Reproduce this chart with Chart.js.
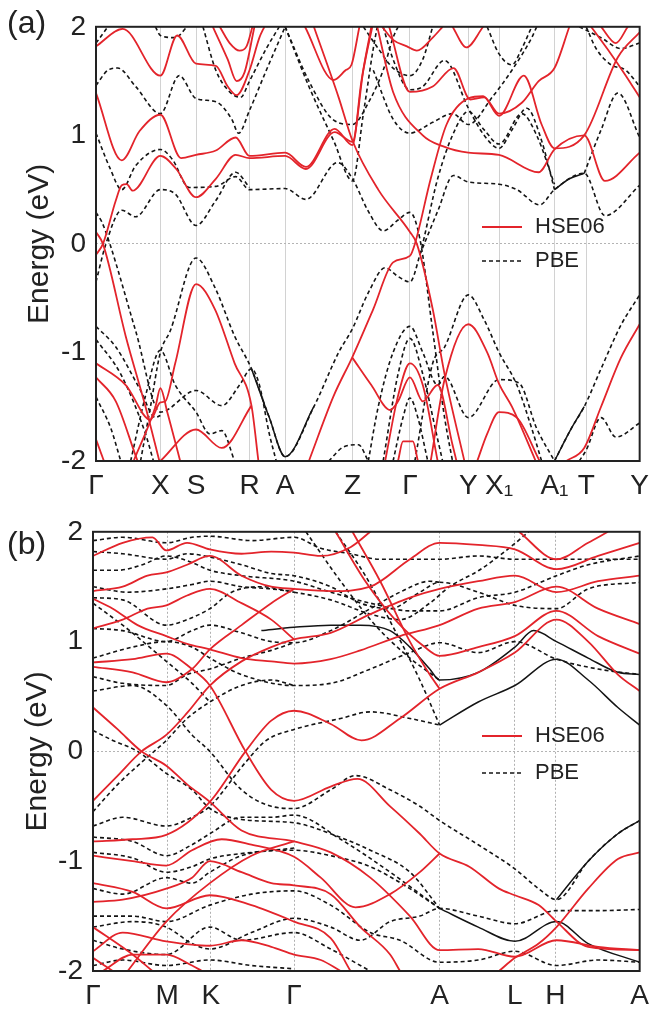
<!DOCTYPE html>
<html>
<head>
<meta charset="utf-8">
<title>Band structure HSE06 / PBE</title>
<script src="https://cdn.jsdelivr.net/npm/chart.js@4"></script>
<style>
  body { margin: 0; background: #fff; }
  #wrap { position: relative; width: 657px; height: 1010px; }
  canvas { position: absolute; left: 0; }
  .tag { position: absolute; left: 7px; font: 32px 'Liberation Sans', Arial, sans-serif; color: #222; }
</style>
</head>
<body>
<div id="wrap">
  <canvas id="chartA" width="657" height="505" style="top:0"></canvas>
  <canvas id="chartB" width="657" height="505" style="top:505px"></canvas>
  <div class="tag" style="top:4px">(a)</div>
  <div class="tag" style="top:525px">(b)</div>
</div>
<script>
// ---- panel (a): k-path positions and labels
const kPosA = [0, 65, 101, 155, 191, 259, 317, 376, 407, 463, 495, 549];
const kLabA = ['Γ', 'X', 'S', 'R', 'A', 'Z', 'Γ', 'Y', 'X₁', 'A₁', 'T', 'Y'];

// HSE06 bands, [k, E(eV)]
const hseA = [
  [[0,1.39],[26,0.77],[44,1.04],[65,1.19],[86,0.79],[101,0.82],[121,0.86],[141,0.98],[155,0.81],[191,0.84],[212,0.71],[241,1.06],[259,0.91],[268,1.5],[278,2.0]],
  [[0,-0.1],[7,0],[20,0.4],[26,0.54],[31,0.55],[37,0.49],[65,0.81],[81,0.69],[101,0.43],[121,0.6],[141,0.82],[155,0.79],[191,0.81],[212,0.69],[241,1.03],[259,0.94],[270,1.6],[279,2.0]],
  [[0,0.11],[7,0],[30,-0.85],[50,-1.5],[64,-2.0]],
  [[0,1.82],[27,1.98],[65,1.55],[82,1.92],[101,1.66],[121,1.64],[133,1.45],[142,1.37],[155,1.6],[165,1.9],[170,2.0]],
  [[118,2.0],[133,1.7],[142,1.5],[150,1.58],[160,2.0]],
  [[125,2.0],[135,1.85],[145,1.78],[152,1.82],[158,2.0]],
  [[211,2.0],[240,1.51],[252,1.6],[258,1.65],[266,2.0]],
  [[220,2.0],[245,1.35],[259,0.95],[285,0.5],[317,0.11],[324,0],[340,-0.6],[352,-1.2],[372,-2.0]],
  [[289,2.0],[300,1.88],[314,1.82],[324,1.78],[340,1.9],[350,2.0]],
  [[360,2.0],[374,1.81],[391,2.0]],
  [[296,2.0],[317,1.4],[340,1.45],[361,1.62],[378,1.33],[392,1.35],[407,1.2],[430,1.3],[447,1.5],[463,1.62],[478,2.0]],
  [[215,-2.0],[240,-1.4],[259,-1.04],[280,-0.6],[300,-0.17],[317,-0.11],[322,0],[338,0.6],[354,1.1],[376,1.34],[391,1.36],[407,1.18],[432,1.55],[450,1.1],[463,0.88],[493,1.0],[527,1.72],[549,1.95]],
  [[284,2.0],[300,1.4],[330,1.0],[350,0.9],[376,0.84],[407,0.82],[447,0.66],[463,0.87],[493,1.0],[514,0.58],[549,0.84]],
  [[500,2.0],[520,1.75],[535,1.55],[549,1.35]],
  [[510,2.0],[525,1.85],[537,2.0]],
  [[0,-1.1],[30,-1.3],[55,-1.62],[65,-1.46],[70,-1.45],[80,-1.1],[101,-0.37],[120,-0.6],[140,-1.1],[157,-1.49],[164,-2.0]],
  [[0,-1.23],[20,-1.45],[40,-1.95],[42,-2.0]],
  [[65,-2.0],[101,-1.71],[127,-1.88],[157,-1.49]],
  [[38,-2.0],[60,-1.5],[65,-1.33],[72,-1.55],[85,-2.0]],
  [[0,-1.8],[8,-2.0]],
  [[259,-1.05],[278,-1.3],[297,-1.53],[305,-1.45],[317,-1.23],[330,-1.45],[345,-1.3],[360,-1.85],[364,-2.0]],
  [[292,-2.0],[305,-1.4],[317,-1.1],[330,-1.3],[345,-2.0]],
  [[305,-2.0],[310,-1.82],[320,-1.82],[325,-2.0]],
  [[338,-2.0],[352,-1.25],[376,-0.74],[395,-1.0],[407,-1.29],[420,-1.5],[444,-2.0]],
  [[385,-2.0],[395,-1.75],[407,-1.55],[425,-1.6],[448,-2.0]],
  [[475,-2.0],[493,-1.88],[510,-1.5],[530,-1.05],[549,-0.74]]
];

// PBE bands, [k, E(eV)]
const pbeA = [
  [[0,1.46],[12,1.6],[22,1.62],[40,1.45],[65,1.2],[84,1.55],[101,1.34],[121,1.31],[137,1.15],[144,1.02],[155,1.23],[172,1.6],[191,2.0]],
  [[0,1.85],[8,1.95],[12,2.0]],
  [[60,2.0],[65,1.92],[80,1.9],[92,2.0]],
  [[108,2.0],[121,1.6],[135,1.4],[146,1.35],[155,1.5],[172,1.8],[185,2.0]],
  [[0,1.02],[14,0.7],[26,0.5],[40,0.72],[65,0.87],[77,0.78],[94,0.52],[121,0.53],[141,0.62],[155,0.5],[191,0.51],[212,0.41],[244,0.75],[259,0.6],[275,0.3],[290,0.12],[305,0.22],[317,0.29],[327,0.05],[340,-0.8],[352,-1.6],[360,-2.0]],
  [[0,-0.35],[10,0],[26,0.31],[40,0.25],[65,0.5],[80,0.46],[101,0.17],[121,0.4],[141,0.66],[155,0.52]],
  [[191,2.0],[215,1.5],[240,1.14],[259,1.1],[275,1.3],[290,1.6],[300,1.9],[305,2.0]],
  [[191,2.0],[215,1.45],[240,0.95],[259,0.58],[270,1.2],[280,1.8],[284,2.0]],
  [[0,0.29],[6,0.2],[14,0],[40,-0.8],[65,-1.55],[101,-1.35],[127,-1.49],[145,-1.3],[157,-1.15],[165,-1.3],[175,-1.75],[182,-2.0]],
  [[45,-2.0],[55,-1.5],[65,-1.0],[75,-0.8],[101,-0.13],[120,-0.4],[140,-0.85],[157,-1.15],[175,-1.6],[191,-1.96],[220,-1.5],[245,-1.0],[259,-0.78],[275,-0.45],[292,-0.22],[305,-0.3],[317,-0.35],[327,-0.1],[345,0.6],[360,1.0],[376,1.22],[392,1.05],[407,0.92],[430,1.2],[445,1.0],[463,0.55]],
  [[327,-0.1],[345,0.3],[361,0.63],[376,0.57],[407,0.55],[425,0.5],[448,0.36],[463,0.5],[493,0.65],[514,0.26],[549,0.54]],
  [[493,0.65],[510,1.05],[527,1.39],[549,0.98]],
  [[290,2.0],[300,1.7],[317,1.42],[330,1.45],[352,1.69],[376,1.25],[392,1.0],[407,0.88],[420,1.05],[435,1.25],[450,0.95],[463,0.5]],
  [[280,1.6],[300,1.15],[317,1.02],[340,1.12],[360,1.2],[376,1.1],[400,1.35],[420,1.6],[440,1.9],[445,2.0]],
  [[495,2.0],[505,1.8],[520,1.65],[535,1.6],[549,1.45]],
  [[488,2.0],[510,1.9],[530,1.8],[549,1.85]],
  [[270,2.0],[285,1.8],[300,1.62],[317,1.55],[330,1.7],[340,2.0]],
  [[395,2.0],[407,1.75],[420,1.65],[430,1.8],[440,2.0]],
  [[322,-2.0],[340,-1.1],[352,-0.95],[376,-0.47],[392,-0.7],[407,-1.0],[425,-1.3],[440,-1.7],[450,-2.0]],
  [[275,-2.0],[285,-1.5],[300,-1.0],[317,-0.76],[330,-1.0],[345,-1.3],[352,-1.22],[376,-1.6],[407,-1.25],[427,-1.28],[445,-1.7],[463,-2.0]],
  [[235,-2.0],[250,-1.87],[265,-1.85],[275,-2.0]],
  [[290,-2.0],[305,-1.2],[317,-0.87],[330,-1.2],[345,-1.8],[350,-2.0]],
  [[300,-2.0],[310,-1.6],[317,-1.42],[325,-1.6],[335,-2.0]],
  [[463,-2.0],[480,-1.7],[493,-1.5],[510,-1.15],[530,-0.75],[549,-0.47]],
  [[488,-2.0],[495,-1.9],[510,-1.6],[525,-1.78],[549,-1.65]],
  [[0,-0.76],[20,-0.95],[45,-1.35],[60,-1.6],[65,-1.58]],
  [[0,-0.88],[25,-1.2],[50,-1.75],[58,-2.0]],
  [[0,-1.41],[15,-1.7],[25,-2.0]],
  [[35,-2.0],[50,-1.4],[65,-0.98],[80,-1.3],[101,-1.55],[115,-1.75],[127,-1.72],[140,-2.0]]
];

// PBE pieces that print as solid in the figure
const pbeSolidA = [
  [[463,0.5],[478,0.6],[493,0.65]],
  [[157,-1.15],[175,-1.6],[191,-1.96],[220,-1.5]],
  [[463,-2.0],[480,-1.7],[493,-1.5]]
];

// ---- panel (b)
const kPosB = [0, 75, 119, 203, 350, 426, 467, 552];
const kLabB = ['Γ', 'M', 'K', 'Γ', 'A', 'L', 'H', 'A'];

const hseB = [
  [[0,0.40],[25,0.2],[49,0],[74,-0.13],[95,-0.3],[118,-0.46],[150,-0.72],[203,-0.82],[240,-0.92],[280,-1.15],[320,-1.5],[350,-1.81],[389,-1.8],[426,-1.87],[468,-1.72],[510,-1.78],[552,-1.81]],
  [[0,-0.45],[25,-0.22],[49,0],[74,0.15],[95,0.35],[118,0.6],[150,0.82],[180,0.95],[203,1.02],[240,1.08],[280,1.25],[320,1.4],[350,1.48],[389,1.55],[426,1.6],[468,1.45],[510,1.55],[552,1.6]],
  [[0,0.81],[40,0.84],[74,0.89],[100,0.75],[118,0.6],[154,0],[180,-0.35],[203,-0.45],[240,-0.32],[267,-0.25],[300,-0.5],[330,-0.75],[350,-0.93],[380,-1.05],[410,-1.25],[426,-1.31],[450,-1.4],[468,-1.55],[500,-1.78],[552,-1.81]],
  [[410,-2.0],[426,-1.88],[450,-1.75],[468,-1.6],[500,-1.25],[530,-0.98],[552,-0.92]],
  [[0,-0.82],[40,-0.8],[74,-0.76],[118,-0.46],[154,0],[180,0.28],[203,0.37],[240,0.25],[271,0.1],[310,0.3],[350,0.57],[389,0.72],[426,0.9],[468,1.2],[500,1.0],[530,0.7],[552,0.55]],
  [[0,1.39],[20,1.3],[45,1.15],[74,1.05],[95,0.98],[118,0.93],[150,0.85],[180,0.82],[203,0.8],[240,0.84],[270,0.92],[310,1.05],[350,1.15],[389,1.3],[426,1.36],[468,1.5],[510,1.3],[552,1.16]],
  [[245,2.0],[275,1.55],[305,1.2],[335,0.95],[350,0.87],[389,0.95],[426,1.05],[468,1.28],[510,1.05],[552,0.89]],
  [[262,2.0],[290,1.55],[320,1.0],[340,0.7],[350,0.57]],
  [[0,1.46],[30,1.5],[55,1.6],[74,1.63],[95,1.7],[118,1.78],[150,1.6],[180,1.5],[203,1.48],[240,1.46],[280,1.5],[320,1.75],[350,1.9],[389,1.88],[426,1.84],[468,1.66],[510,1.78],[552,1.9]],
  [[0,1.78],[30,1.9],[60,1.95],[74,1.83],[95,1.9],[118,1.84],[150,1.8],[180,1.82],[203,1.81],[230,1.78],[260,1.86],[280,2.0]],
  [[0,1.12],[30,1.2],[55,1.3],[74,1.33],[95,1.42],[118,1.48],[150,1.35],[180,1.2],[203,1.02]],
  [[0,0.77],[40,0.72],[74,0.63],[100,0.75],[118,0.93],[150,1.15],[180,1.35],[203,1.48]],
  [[0,-0.95],[40,-1.0],[74,-1.04],[100,-0.9],[130,-0.8],[160,-0.85],[203,-0.96],[230,-1.15],[265,-1.42],[300,-1.3],[330,-1.1],[350,-0.93]],
  [[0,-1.37],[30,-1.35],[74,-1.25],[100,-1.15],[118,-1.0],[150,-1.1],[180,-1.2],[203,-1.22],[240,-1.3],[270,-1.6],[300,-1.85],[310,-2.0]],
  [[0,-1.2],[40,-1.28],[74,-1.43],[118,-1.31],[160,-1.4],[203,-1.55],[240,-1.7],[260,-2.0]],
  [[0,-1.82],[30,-1.65],[74,-1.73],[118,-1.77],[150,-1.72],[180,-1.78],[203,-1.85],[230,-1.9],[250,-2.0]],
  [[0,-1.88],[20,-2.0]],
  [[10,-2.0],[40,-1.85],[74,-1.85],[100,-1.95],[110,-2.0]],
  [[0,-1.6],[40,-1.85],[60,-2.0]],
  [[35,-2.0],[74,-1.55],[118,-1.2],[160,-0.95],[203,-0.82]],
  [[430,2.0],[468,1.75],[500,1.9],[520,2.0]]
];

const pbeB = [
  [[0,1.92],[30,1.95],[74,1.9],[100,1.95],[118,1.96],[160,1.92],[203,1.95],[230,1.85],[260,1.8],[290,1.75],[320,1.75],[350,1.75],[389,1.78],[426,1.75],[468,1.75],[510,1.75],[552,1.75]],
  [[0,1.82],[30,1.8],[74,1.75],[95,1.8],[118,1.77],[150,1.7],[180,1.62],[203,1.6],[240,1.5],[270,1.35],[300,1.3],[330,1.45],[350,1.54],[389,1.45],[426,1.33],[468,1.3],[500,1.48],[552,1.54]],
  [[0,1.65],[25,1.65],[50,1.7],[74,1.78],[100,1.72],[118,1.65],[150,1.6],[203,1.55],[240,1.45],[280,1.35],[320,1.28],[350,1.28],[389,1.4],[426,1.45],[468,1.6],[500,1.7],[552,1.78]],
  [[0,1.5],[35,1.45],[74,1.48],[100,1.52],[118,1.55],[150,1.5],[180,1.48],[203,1.45],[240,1.38],[280,1.25],[310,1.2],[340,1.35],[360,1.5],[390,1.65],[420,1.85],[440,2.0]],
  [[0,1.4],[30,1.38],[74,1.15],[95,1.2],[118,1.3],[140,1.45],[170,1.5],[203,1.45]],
  [[0,1.12],[30,1.1],[74,1.0],[100,1.1],[118,1.15],[150,1.08],[180,1.0],[203,0.99],[240,1.1],[280,1.3],[310,1.45],[340,1.55],[350,1.54]],
  [[0,0.85],[40,0.95],[74,1.0],[100,0.95],[118,0.85],[150,0.7],[203,0.6],[240,0.62],[280,0.75],[320,0.9],[350,0.99],[389,0.9],[426,1.0],[468,0.84],[510,0.75],[552,0.7]],
  [[0,0.68],[30,0.62],[74,0.6],[95,0.7],[118,0.75],[150,0.85],[180,0.92],[203,0.99]],
  [[0,0.19],[20,0.1],[45,0],[74,-0.2],[100,-0.35],[118,-0.52],[150,-0.62],[203,-0.65],[240,-0.75],[280,-0.9],[320,-1.1],[350,-1.43]],
  [[0,-0.55],[25,-0.3],[49,-0.1],[74,0.1],[95,0.3],[118,0.45],[150,0.6],[180,0.65],[203,0.6]],
  [[0,-0.68],[30,-0.6],[74,-0.68],[100,-0.6],[118,-0.5],[154,-0.1],[175,0.1],[203,0.2],[250,0.3],[280,0.36],[320,0.3],[350,0.24]],
  [[0,0.55],[40,0.6],[74,0.42],[100,0.15],[118,0],[150,-0.35],[180,-0.5],[203,-0.52],[240,-0.35],[265,-0.22],[300,-0.35],[330,-0.5],[350,-0.63],[389,-0.85],[426,-1.07],[450,-1.25],[468,-1.35],[500,-1.0],[530,-0.75],[552,-0.63]],
  [[0,-0.78],[40,-0.82],[74,-0.95],[100,-0.85],[118,-0.75],[150,-0.6],[180,-0.6],[203,-0.58],[250,-0.8],[300,-1.1],[350,-1.43]],
  [[0,-0.92],[40,-0.97],[74,-1.1],[100,-1.05],[118,-0.98],[150,-0.93],[203,-0.9],[240,-0.95],[280,-1.05],[320,-1.25],[350,-1.43]],
  [[0,-1.25],[30,-1.3],[74,-1.15],[100,-1.2],[118,-1.1],[150,-0.95],[203,-0.88]],
  [[0,-1.5],[40,-1.5],[74,-1.55],[118,-1.4],[160,-1.3],[203,-1.27],[240,-1.4],[280,-1.65],[310,-1.72],[350,-1.92],[389,-1.9],[426,-1.82],[468,-1.95],[510,-1.9],[552,-1.92]],
  [[0,-1.6],[40,-1.55],[74,-1.6],[100,-1.75],[118,-1.8],[160,-1.65],[203,-1.52],[240,-1.6],[270,-1.72],[300,-1.55],[330,-1.5],[350,-1.43],[389,-1.5],[426,-1.57],[468,-1.45],[510,-1.45],[552,-1.44]],
  [[0,-1.72],[30,-1.8],[74,-1.85],[118,-1.6],[150,-1.72],[203,-1.65],[240,-1.8],[270,-1.95],[280,-2.0]],
  [[0,-1.95],[30,-1.9],[74,-1.95],[118,-1.9],[160,-1.95],[203,-1.98]],
  [[245,2.0],[275,1.6],[305,1.1],[330,0.65],[350,0.24]],
  [[215,2.0],[250,1.55],[285,1.15],[320,0.85],[350,0.65]],
  [[0,1.35],[37,1.1],[74,0.82],[100,0.62],[118,0.45]]
];

const pbeSolidB = [
  [[170,1.1],[203,1.13],[240,1.15],[270,1.15],[300,1.1],[320,0.95],[340,0.75],[350,0.65],[389,0.72],[426,0.95],[445,1.1],[468,1.0],[500,0.85],[530,0.72],[552,0.7]],
  [[350,0.24],[389,0.45],[426,0.6],[468,0.84],[500,0.65],[530,0.4],[552,0.24]],
  [[350,-1.43],[389,-1.6],[426,-1.73],[468,-1.55],[500,-1.75],[552,-1.92]],
  [[468,-1.35],[500,-1.0],[530,-0.75],[552,-0.63]]
];

const RED = '#e3242b';
const BLK = '#141414';
const FONT = "'Liberation Sans', Arial, sans-serif";
Chart.defaults.font.family = FONT;
Chart.defaults.color = '#222';

function toXY(band) { return band.map(p => ({ x: p[0], y: p[1] })); }

function bandSets(hse, pbe, pbeSolid) {
  const sets = [];
  hse.forEach(b => sets.push({ label: 'HSE06', data: toXY(b), borderColor: RED, borderWidth: 1.8, order: 1 }));
  pbeSolid.forEach(b => sets.push({ label: 'PBE', data: toXY(b), borderColor: BLK, borderWidth: 1.5, order: 2 }));
  pbe.forEach(b => sets.push({ label: 'PBE', data: toXY(b), borderColor: BLK, borderWidth: 1.6, borderDash: [4, 3], order: 3 }));
  sets.forEach(s => { s.pointRadius = 0; s.fill = false; s.cubicInterpolationMode = 'monotone'; });
  return sets;
}

// frame around the plot + the two-entry key inside it
const frameAndKey = {
  id: 'frameAndKey',
  afterDraw(chart, args, o) {
    const { ctx, chartArea: a } = chart;
    ctx.save();
    ctx.strokeStyle = '#222';
    ctx.lineWidth = 2;
    ctx.setLineDash([]);
    ctx.strokeRect(a.left, a.top, a.right - a.left, a.bottom - a.top);

    ctx.font = '22px ' + FONT;
    ctx.fillStyle = '#222';
    ctx.textBaseline = 'middle';
    ctx.lineWidth = 1.8;
    ctx.strokeStyle = RED;
    ctx.beginPath(); ctx.moveTo(o.x, o.y); ctx.lineTo(o.x + 40, o.y); ctx.stroke();
    ctx.fillText('HSE06', o.x + 53, o.y);
    ctx.strokeStyle = BLK;
    ctx.lineWidth = 1.6;
    ctx.setLineDash([4, 3]);
    ctx.beginPath(); ctx.moveTo(o.x, o.y + o.gap); ctx.lineTo(o.x + 40, o.y + o.gap); ctx.stroke();
    ctx.fillText('PBE', o.x + 53, o.y + o.gap);
    ctx.restore();
  }
};

function makePanel(id, kPos, kLab, hse, pbe, pbeSolid, g) {
  return new Chart(document.getElementById(id), {
    type: 'line',
    data: { datasets: bandSets(hse, pbe, pbeSolid) },
    plugins: [frameAndKey],
    options: {
      responsive: false,
      animation: false,
      devicePixelRatio: 1,
      layout: { padding: { left: 0, right: 12, top: g.top, bottom: 0 } },
      plugins: {
        legend: { display: false },
        tooltip: { enabled: false },
        frameAndKey: { x: 482, y: g.keyY, gap: g.keyGap }
      },
      scales: {
        x: {
          type: 'linear',
          min: 0,
          max: kPos[kPos.length - 1],
          afterBuildTicks: s => { s.ticks = kPos.map(v => ({ value: v })); },
          afterFit: s => { s.height = g.xh; },
          ticks: {
            autoSkip: false, maxRotation: 0, padding: 8,
            font: { size: 28 }, color: '#222',
            callback: (v, i) => kLab[i]
          },
          grid: { color: g.vColor, lineWidth: 1, drawTicks: false },
          border: { display: false, dash: g.vDash }
        },
        y: {
          min: -2,
          max: 2,
          afterFit: s => { s.width = g.yw; },
          ticks: { stepSize: 1, padding: 10, font: { size: 28 }, color: '#222' },
          grid: {
            drawTicks: false,
            color: c => (c.tick && c.tick.value === 0) ? '#b4b4b4' : 'rgba(0,0,0,0)'
          },
          border: { display: false, dash: [2, 2] },
          title: {
            display: true, text: 'Energy (eV)', color: '#222',
            font: { size: 30 }, padding: { top: g.titlePad, bottom: 0 }
          }
        }
      }
    }
  });
}

makePanel('chartA', kPosA, kLabA, hseA, pbeA, pbeSolidA,
  { top: 23, xh: 44, yw: 96, titlePad: 22, keyY: 227, keyGap: 34, vColor: '#d2d2d2', vDash: [] });
makePanel('chartB', kPosB, kLabB, hseB, pbeB, pbeSolidB,
  { top: 25, xh: 39, yw: 93, titlePad: 20, keyY: 231, keyGap: 37, vColor: '#b0b0b0', vDash: [2, 2] });
</script>
</body>
</html>
